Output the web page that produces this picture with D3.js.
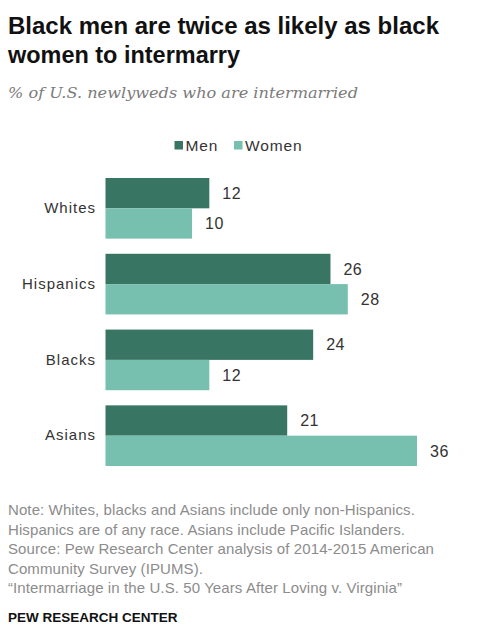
<!DOCTYPE html>
<html>
<head>
<meta charset="utf-8">
<script src="https://cdn.jsdelivr.net/npm/d3@7"></script>
<style>
  body { margin: 0; background: #fff; }
</style>
</head>
<body>
<div class="chart"></div>
<script>
// data
var categories = ["Whites", "Hispanics", "Blacks", "Asians"];
var seriesNames = ["Men", "Women"];
var menValues = [12, 26, 24, 21];
var womenValues = [10, 28, 12, 36];
var noteLines = [
  "Note: Whites, blacks and Asians include only non-Hispanics.",
  "Hispanics are of any race. Asians include Pacific Islanders.",
  "Source: Pew Research Center analysis of 2014-2015 American",
  "Community Survey (IPUMS).",
  "\u201cIntermarriage in the U.S. 50 Years After Loving v. Virginia\u201d"
];

var svgWidth = 486, svgHeight = 635;
var colors = { Men: "#387563", Women: "#77bfae" };

var svg = d3.select(".chart").append("svg")
  .attr("width", svgWidth)
  .attr("height", svgHeight);

// title
var title = svg.append("text")
  .attr("font-family", "'Liberation Sans', Arial, sans-serif")
  .attr("font-weight", "bold")
  .attr("font-size", "23.5px")
  .attr("fill", "#111");
title.append("tspan").attr("x", 8).attr("y", 34)
  .attr("textLength", 431).attr("lengthAdjust", "spacingAndGlyphs")
  .text("Black men are twice as likely as black");
title.append("tspan").attr("x", 8).attr("y", 63)
  .attr("textLength", 232).attr("lengthAdjust", "spacingAndGlyphs")
  .text("women to intermarry");

svg.append("text")
  .attr("x", 8).attr("y", 98)
  .attr("font-family", "Georgia, 'DejaVu Serif', serif")
  .attr("font-style", "italic")
  .attr("font-size", "15.5px")
  .attr("fill", "#7b7b7b")
  .attr("textLength", 350)
  .attr("lengthAdjust", "spacingAndGlyphs")
  .text("% of U.S. newlyweds who are intermarried");

// legend
var legend = svg.append("g").attr("font-family", "'Liberation Sans', Arial, sans-serif");
var legendX = [174.5, 234];
seriesNames.forEach(function(name, i) {
  legend.append("rect")
    .attr("x", legendX[i]).attr("y", 141)
    .attr("width", 8.5).attr("height", 8.5)
    .attr("fill", colors[name]);
  legend.append("text")
    .attr("x", legendX[i] + 11).attr("y", 150.5)
    .attr("font-size", "15.5px")
    .attr("letter-spacing", "0.9px")
    .attr("fill", "#333")
    .text(name);
});

// scales
var x = d3.scaleLinear().domain([0, 36]).range([105.5, 417]);
var y0 = d3.scaleBand().domain(categories).range([178, 466]).paddingInner(0.2).paddingOuter(0);
var y1 = d3.scaleBand().domain(seriesNames).range([0, y0.bandwidth()]);

var rows = categories.map(function(c, i) {
  return { cat: c, values: [
    { name: "Men", value: menValues[i] },
    { name: "Women", value: womenValues[i] }
  ]};
});

var chartGroup = svg.append("g").attr("font-family", "'Liberation Sans', Arial, sans-serif");

var groups = chartGroup.selectAll("g.group")
  .data(rows)
  .enter()
  .append("g")
  .attr("class", "group")
  .attr("transform", d => `translate(0, ${y0(d.cat)})`);

groups.selectAll("rect")
  .data(d => d.values)
  .enter()
  .append("rect")
  .attr("x", x(0))
  .attr("y", d => y1(d.name))
  .attr("width", d => x(d.value) - x(0))
  .attr("height", y1.bandwidth())
  .attr("fill", d => colors[d.name]);

groups.selectAll("text.val")
  .data(d => d.values)
  .enter()
  .append("text")
  .attr("class", "val")
  .attr("x", d => x(d.value) + 13)
  .attr("y", d => y1(d.name) + y1.bandwidth() / 2)
  .attr("dy", "0.36em")
  .attr("font-size", "16px")
  .attr("letter-spacing", "0.5px")
  .attr("fill", "#333")
  .text(d => d.value);

// category axis labels
var yAxis = d3.axisLeft(y0).tickSize(0).tickPadding(0);
var axisG = chartGroup.append("g")
  .attr("transform", "translate(96, 0)")
  .call(yAxis);
axisG.select(".domain").remove();
axisG.selectAll("text")
  .attr("font-family", "'Liberation Sans', Arial, sans-serif")
  .attr("font-size", "15px")
  .attr("letter-spacing", "1px")
  .attr("fill", "#333");

// notes
var notes = svg.append("g")
  .attr("font-family", "'Liberation Sans', Arial, sans-serif")
  .attr("font-size", "15px")
  .attr("letter-spacing", "0.1px")
  .attr("fill", "#8c8c8c");
noteLines.forEach(function(line, i) {
  notes.append("text")
    .attr("x", 8)
    .attr("y", 515 + i * 19.6)
    .text(line);
});

svg.append("text")
  .attr("x", 8).attr("y", 622)
  .attr("font-family", "'Liberation Sans', Arial, sans-serif")
  .attr("font-weight", "bold")
  .attr("font-size", "13.5px")
  .attr("fill", "#111")
  .text("PEW RESEARCH CENTER");
</script>
</body>
</html>
